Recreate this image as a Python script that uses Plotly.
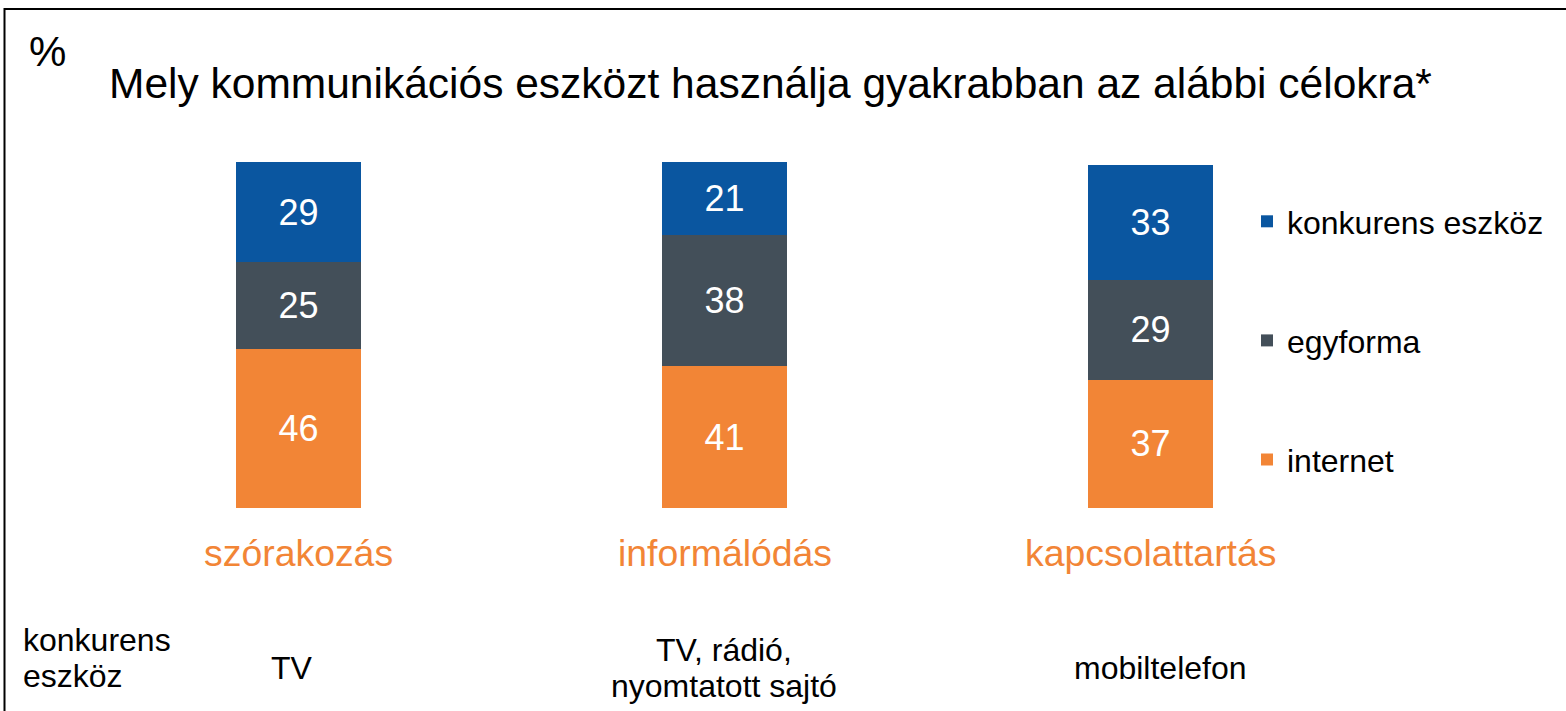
import plotly.graph_objects as go

W, H = 1566, 711

categories = ["szórakozás", "informálódás", "kapcsolattartás"]
competitors = [["TV"], ["TV, rádió,", "nyomtatott sajtó"], ["mobiltelefon"]]
row_label = ["konkurens", "eszköz"]
series_names = ["internet", "egyforma", "konkurens eszköz"]
internet = [46, 41, 37]
egyforma = [25, 38, 29]
konkurens = [29, 21, 33]
title_text = "Mely kommunikációs eszközt használja gyakrabban az alábbi célokra*"

colors = {"internet": "#F28536", "egyforma": "#434F59", "konkurens eszköz": "#0A56A0"}
FONT = "Liberation Sans, Arial, sans-serif"

fig = go.Figure()
for rank, (name, vals) in enumerate(zip(series_names, [internet, egyforma, konkurens])):
    fig.add_trace(go.Bar(
        x=categories, y=vals, name=name, legendgroup=name,
        legendrank=1000 - rank,
        marker=dict(color=colors[name], line=dict(width=0)),
        width=0.293,
        text=[str(v) for v in vals], textposition="inside",
        insidetextanchor="middle",
        textfont=dict(color="white", size=36, family=FONT),
        constraintext="none",
    ))

px_per_cat = 426.0
x0 = -298.5 / px_per_cat
x1 = x0 + W / px_per_cat

fig.update_layout(
    width=W, height=H, barmode="stack",
    margin=dict(l=0, r=0, t=0, b=0),
    paper_bgcolor="white", plot_bgcolor="white",
    font=dict(family=FONT, color="black"),
    xaxis=dict(type="category", range=[x0, x1], visible=False, fixedrange=True),
    yaxis=dict(range=[0, 100], domain=[(H - 508) / H, (H - 162) / H],
               visible=False, fixedrange=True),
    legend=dict(x=1247 / W, y=1 - 194 / H, xanchor="left", yanchor="top",
                traceorder="grouped", tracegroupgap=74.5,
                font=dict(size=32, family=FONT, color="black"),
                bgcolor="rgba(0,0,0,0)", itemwidth=30),
    showlegend=True,
)

def py(p):
    return 1 - p / H

anns = [
    dict(text="%", x=27 / W, y=py(52), xanchor="left", yanchor="middle",
         font=dict(size=42)),
    dict(text=title_text, x=107 / W, y=py(83), xanchor="left", yanchor="middle",
         font=dict(size=42.5)),
]
for i, line in enumerate(row_label):
    anns.append(dict(text=line, x=21 / W, y=py(640 + 36 * i), xanchor="left",
                     yanchor="middle", font=dict(size=32)))
for cat, comp, cx in zip(categories, competitors, [292, 724, 1160]):
    anns.append(dict(text=cat, x=cat, xref="x", y=py(553), yref="paper",
                     xanchor="center", yanchor="middle",
                     font=dict(size=37.4, color="#F28536")))
    start = 668 - 18 * (len(comp) - 1)
    for i, line in enumerate(comp):
        anns.append(dict(text=line, x=cx / W, y=py(start + 36 * i),
                         xanchor="center", yanchor="middle", font=dict(size=32)))
for a in anns:
    a.setdefault("xref", "paper")
    a.setdefault("yref", "paper")
    a["showarrow"] = False
fig.update_layout(annotations=anns)

fig.add_shape(type="rect", xref="paper", yref="paper",
              x0=4.5 / W, x1=(W + 10) / W, y0=py(H + 10), y1=py(9),
              line=dict(color="black", width=2), fillcolor="rgba(0,0,0,0)",
              layer="above")

fig.write_html("out.html", config={"displayModeBar": False},
               post_script="document.body.style.margin='0';document.body.style.padding='0';")
